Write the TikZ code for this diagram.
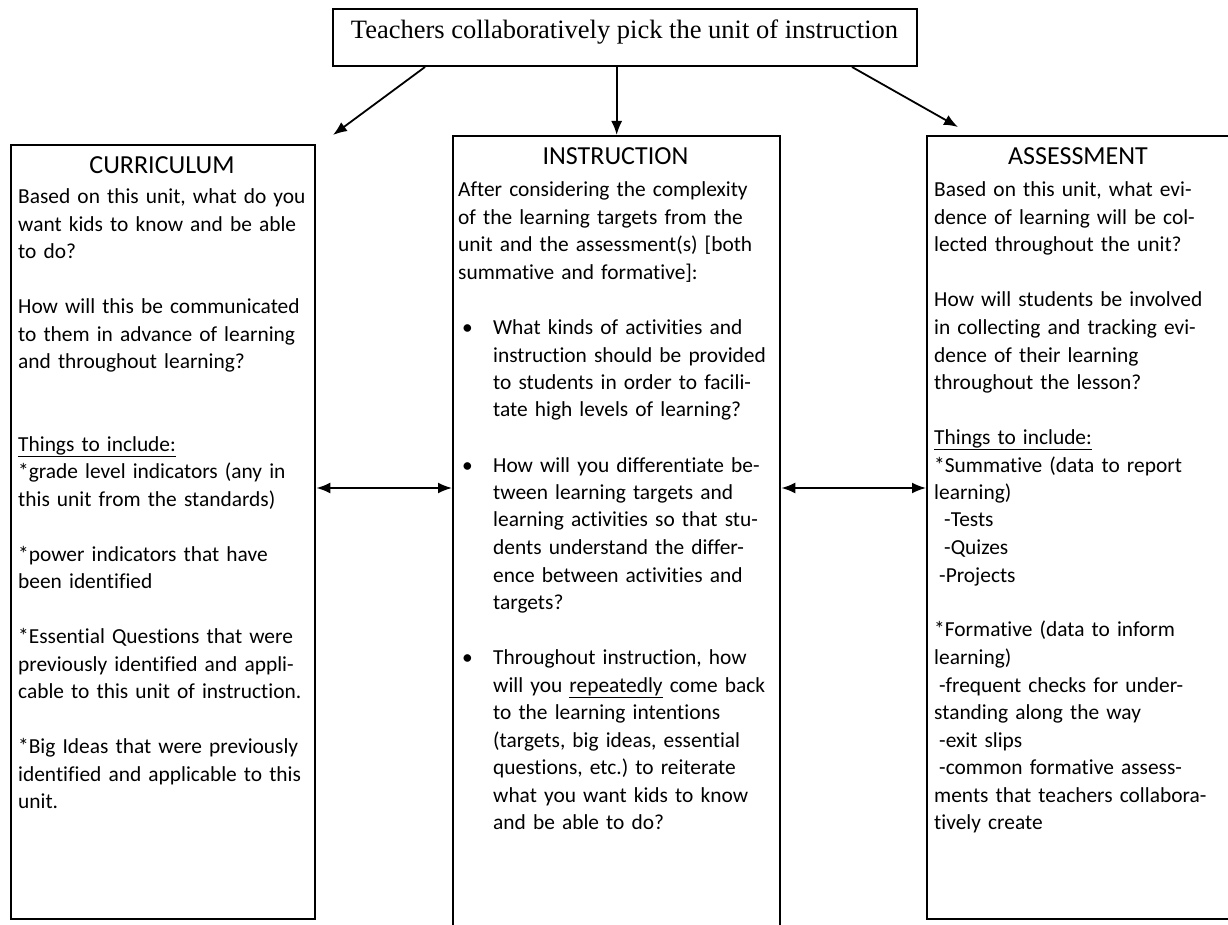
\documentclass[tikz,border=0pt]{standalone}
\usepackage{fontspec}
\setmainfont{Carlito}[Ligatures=NoCommon]
\newfontfamily\timesfont{Liberation Serif}
\usetikzlibrary{arrows.meta}
\begin{document}
\begin{tikzpicture}[x=1pt,y=-1pt,
  box/.style={draw,line width=2.4pt,inner sep=0pt,anchor=north west},
  arr/.style={line width=1.8pt,-{Latex[length=14pt,width=11pt]}},
  darr/.style={line width=1.8pt,{Latex[length=14pt,width=11pt]}-{Latex[length=14pt,width=11pt]}},
  head/.style={font=\fontsize{26}{30}\selectfont,anchor=base,inner sep=0pt},
  body/.style={font=\fontsize{21.4}{27.5}\selectfont,anchor=base west,inner sep=0pt,align=left,text width=330pt},
]
\clip (0,0) rectangle (1228,925);
\fill[white] (0,0) rectangle (1228,925);

% top box
\node[box,line width=2pt,minimum width=584pt,minimum height=57pt] (top) at (332,8) {};
\node[font=\timesfont\fontsize{26.5}{30}\selectfont,inner sep=0pt] (toptxt) at (624.5,32) {Teachers collaboratively pick the unit of instruction};

% three boxes
\node[box,minimum width=304pt,minimum height=774pt] (cur) at (10,144) {};
\node[box,minimum width=327pt,minimum height=820pt] (ins) at (452,135) {};
\node[box,minimum width=320pt,minimum height=783pt] (ass) at (926,135) {};

% headings
\node[head] (curh) at (162,174) {CURRICULUM};
\node[head] (insh) at (615.5,165) {INSTRUCTION};
\node[head] (assh) at (1078,165) {ASSESSMENT};

% curriculum body
\node[body] (curb) at (18,204) {Based on this unit, what do you\\
want kids to know and be able\\
to do?\\[27.5pt]
How will this be communicated\\
to them in advance of learning\\
and throughout learning?\\[55pt]
\underline{Things to include:}\\
{}*grade level indicators (any in\\
this unit from the standards)\\[27.5pt]
{}*power indicators that have\\
been identified\\[27.5pt]
{}*Essential Questions that were\\
previously identified and appli-\\
cable to this unit of instruction.\\[27.5pt]
{}*Big Ideas that were previously\\
identified and applicable to this\\
unit.};

% instruction body
\node[body] (insb) at (458,197) {After considering the complexity\\
of the learning targets from the\\
unit and the assessment(s) [both\\
summative and formative]:\\[27.5pt]
\makebox[35pt][l]{\hspace*{4pt}\textbullet}What kinds of activities and\\
\hspace*{35pt}instruction should be provided\\
\hspace*{35pt}to students in order to facili-\\
\hspace*{35pt}tate high levels of learning?\\[27.5pt]
\makebox[35pt][l]{\hspace*{4pt}\textbullet}How will you differentiate be-\\
\hspace*{35pt}tween learning targets and\\
\hspace*{35pt}learning activities so that stu-\\
\hspace*{35pt}dents understand the differ-\\
\hspace*{35pt}ence between activities and\\
\hspace*{35pt}targets?\\[27.5pt]
\makebox[35pt][l]{\hspace*{4pt}\textbullet}Throughout instruction, how\\
\hspace*{35pt}will you \underline{repeatedly} come back\\
\hspace*{35pt}to the learning intentions\\
\hspace*{35pt}(targets, big ideas, essential\\
\hspace*{35pt}questions, etc.)\ to reiterate\\
\hspace*{35pt}what you want kids to know\\
\hspace*{35pt}and be able to do?};

% assessment body
\node[body] (assb) at (934,197) {Based on this unit, what evi-\\
dence of learning will be col-\\
lected throughout the unit?\\[27.5pt]
How will students be involved\\
in collecting and tracking evi-\\
dence of their learning\\
throughout the lesson?\\[27.5pt]
\underline{Things to include:}\\
{}*Summative (data to report\\
learning)\\
\hspace*{10pt}-Tests\\
\hspace*{10pt}-Quizes\\
\hspace*{5pt}-Projects\\[27.5pt]
{}*Formative (data to inform\\
learning)\\
\hspace*{5pt}-frequent checks for under-\\
standing along the way\\
\hspace*{5pt}-exit slips\\
\hspace*{5pt}-common formative assess-\\
ments that teachers collabora-\\
tively create};

% connectors
\coordinate (curtip) at (333,135);
\coordinate (asstip) at (958,127);
\draw[arr] ([xshift=93pt]top.south west) -- (curtip);
\draw[arr] (top.south -| ins.north) -- (ins.north);
\draw[arr] ([xshift=-66pt]top.south east) -- (asstip);
\draw[darr] (cur.east |- 0,488) -- (ins.west |- 0,488);
\draw[darr] (ins.east |- 0,488) -- (ass.west |- 0,488);
\end{tikzpicture}
\end{document}
